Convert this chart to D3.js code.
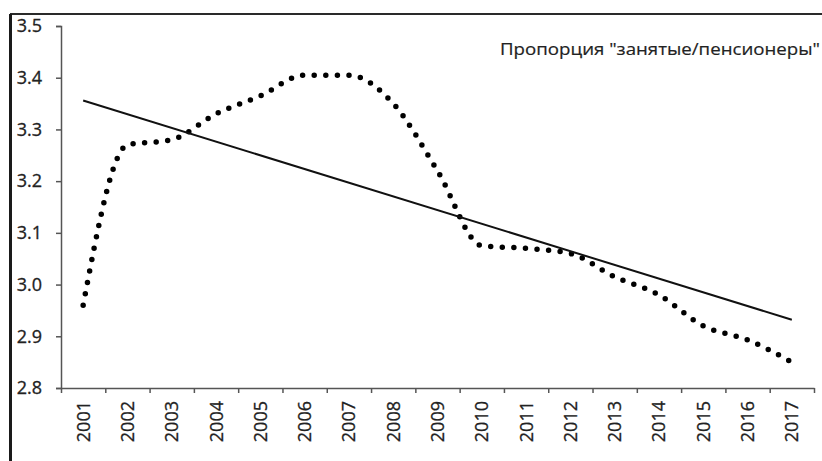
<!DOCTYPE html>
<html>
<head>
<meta charset="utf-8">
<script src="https://cdn.jsdelivr.net/npm/d3@7"></script>
<style>
  body { margin: 0; background: #fff; }
  svg { display: block; }
</style>
</head>
<body>
<div id="chart"></div>
<script>
// years on the x axis
var years = ["2001", "2002", "2003", "2004", "2005", "2006", "2007", "2008", "2009",
    "2010", "2011", "2012", "2013", "2014", "2015", "2016", "2017"];

// ratio "employed / pensioners"
var ratioValues = [2.96, 3.27, 3.28, 3.33, 3.365, 3.405, 3.405, 3.35, 3.22,
    3.075, 3.07, 3.06, 3.015, 2.98, 2.92, 2.893, 2.85];

var yTicks = [2.8, 2.9, 3.0, 3.1, 3.2, 3.3, 3.4, 3.5];
var seriesLabel = "Пропорция \"занятые/пенсионеры\"";

drawRatioChart();

function drawRatioChart() {
    var W = 822, H = 461;
    var margin = { top: 26, right: 8, bottom: 73, left: 61 };
    var fontFamily = "'Open Sans', 'Noto Sans', sans-serif";

    var svg = d3.select("#chart").append("svg")
        .attr("width", W)
        .attr("height", H);

    // frame of the scanned figure
    svg.append("line")
        .attr("x1", 10).attr("x2", W).attr("y1", 14).attr("y2", 14)
        .attr("stroke", "#2a2a2a").attr("stroke-width", 2);
    svg.append("line")
        .attr("x1", 10.5).attr("x2", 10.5).attr("y1", 14).attr("y2", H)
        .attr("stroke", "#1a1a1a").attr("stroke-width", 3);

    var x = d3.scaleBand()
        .domain(years)
        .range([margin.left, W - margin.right])
        .padding(0);
    // band edges for the category tick marks
    var xEdge = d3.scaleLinear()
        .domain([0, years.length])
        .range([margin.left, W - margin.right]);
    var y = d3.scaleLinear()
        .domain([2.8, 3.5])
        .range([H - margin.bottom, margin.top]);

    function cx(d, i) { return x(years[i]) + x.bandwidth() / 2; }

    // y axis
    var yAxis = svg.append("g")
        .attr("transform", "translate(" + margin.left + ",0)")
        .call(d3.axisLeft(y).tickValues(yTicks).tickFormat(d3.format(".1f")).tickSize(5).tickPadding(14));
    yAxis.select(".domain").attr("stroke", "#555").attr("stroke-width", 1.5);
    yAxis.selectAll(".tick line").attr("stroke", "#555").attr("stroke-width", 1.5);
    yAxis.selectAll(".tick text")
        .attr("font-family", fontFamily)
        .attr("font-size", "18px")
        .attr("fill", "#222")
        .attr("stroke", "#222")
        .attr("stroke-width", 0.3);

    // x axis: ticks at band edges
    var xTicks = svg.append("g")
        .attr("transform", "translate(0," + (H - margin.bottom) + ")")
        .call(d3.axisBottom(xEdge).tickValues(d3.range(0, years.length + 1)).tickFormat("").tickSize(5).tickSizeOuter(0));
    xTicks.select(".domain").attr("stroke", "#555").attr("stroke-width", 1.5);
    xTicks.selectAll(".tick line").attr("stroke", "#555").attr("stroke-width", 1.5);

    // x axis labels, rotated
    var xLabels = svg.append("g")
        .attr("transform", "translate(0," + (H - margin.bottom) + ")")
        .call(d3.axisBottom(x).tickSize(0));
    xLabels.select(".domain").remove();
    xLabels.selectAll(".tick text")
        .attr("transform", "rotate(-90)")
        .attr("x", -13)
        .attr("y", 0)
        .attr("dy", "0.36em")
        .attr("text-anchor", "end")
        .attr("font-family", fontFamily)
        .attr("font-size", "18px")
        .attr("fill", "#222")
        .attr("stroke", "#222")
        .attr("stroke-width", 0.3);

    // dotted smoothed series
    var line = d3.line()
        .x(cx)
        .y(function (d) { return y(d); })
        .curve(d3.curveMonotoneX);

    svg.append("path")
        .datum(ratioValues)
        .attr("d", line)
        .attr("fill", "none")
        .attr("stroke", "#000")
        .attr("stroke-width", 5.5)
        .attr("stroke-linecap", "round")
        .attr("stroke-dasharray", "0 11.6");

    // linear trend (least squares)
    var n = ratioValues.length;
    var idx = d3.range(n);
    var mx = d3.mean(idx), my = d3.mean(ratioValues);
    var sxy = d3.sum(idx, function (i) { return (i - mx) * (ratioValues[i] - my); });
    var sxx = d3.sum(idx, function (i) { return (i - mx) * (i - mx); });
    var slope = sxy / sxx;
    var trend = idx.map(function (i) { return my + slope * (i - mx); });

    svg.append("path")
        .datum([trend[0], trend[n - 1]])
        .attr("d", d3.line()
            .x(function (d, i) { return cx(d, i === 0 ? 0 : n - 1); })
            .y(function (d) { return y(d); }))
        .attr("fill", "none")
        .attr("stroke", "#111")
        .attr("stroke-width", 2);

    // series label
    svg.append("text")
        .attr("x", 500)
        .attr("y", 55)
        .attr("font-family", fontFamily)
        .attr("font-size", "17px")
        .attr("fill", "#222")
        .attr("stroke", "#222")
        .attr("stroke-width", 0.2)
        .attr("textLength", 320)
        .attr("lengthAdjust", "spacingAndGlyphs")
        .text(seriesLabel);
}
</script>
</body>
</html>
